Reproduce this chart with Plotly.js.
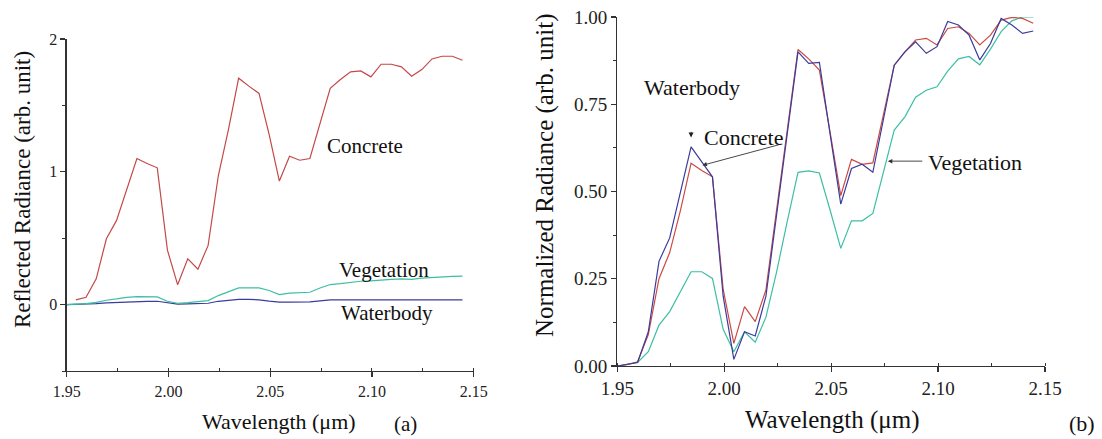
<!DOCTYPE html>
<html>
<head>
<meta charset="utf-8">
<script src="https://cdn.plot.ly/plotly-3.0.1.min.js"></script>
<style>html,body{margin:0;padding:0;background:#fff;}#chart{width:1102px;height:439px;}</style>
</head>
<body>
<div id="chart"></div>
<script>
// Wavelength samples (µm)
const wavelength = [1.9500,1.9545,1.9595,1.9645,1.9695,1.9745,1.9795,1.9845,1.9895,1.9945,
  1.9995,2.0045,2.0095,2.0145,2.0195,2.0245,2.0295,2.0345,2.0395,2.0445,
  2.0495,2.0545,2.0595,2.0645,2.0695,2.0745,2.0795,2.0845,2.0895,2.0945,
  2.0995,2.1045,2.1095,2.1145,2.1195,2.1245,2.1295,2.1345,2.1395,2.1445];

// (a) Reflected radiance (arb. unit)
const concreteA = [null,0.035,0.055,0.194,0.496,0.634,0.860,1.100,1.062,1.030,
  0.410,0.150,0.345,0.267,0.446,0.970,1.320,1.705,1.645,1.590,
  1.280,0.930,1.117,1.087,1.100,1.364,1.628,1.695,1.753,1.760,
  1.715,1.810,1.810,1.790,1.720,1.770,1.850,1.870,1.870,1.840];
const vegetationA = [0.000,0.003,0.008,0.017,0.033,0.043,0.055,0.060,0.060,0.058,
  0.025,0.010,0.015,0.020,0.030,0.068,0.095,0.126,0.126,0.126,
  0.106,0.075,0.086,0.088,0.093,0.125,0.151,0.158,0.168,0.176,
  0.178,0.186,0.190,0.194,0.190,0.200,0.205,0.211,0.213,0.214];
const waterbodyA = [0.000,0.001,0.003,0.008,0.013,0.017,0.022,0.025,0.025,0.025,
  0.012,0.003,0.005,0.005,0.010,0.025,0.033,0.040,0.040,0.036,
  0.026,0.018,0.018,0.018,0.020,0.028,0.035,0.035,0.035,0.035,
  0.035,0.035,0.035,0.035,0.035,0.035,0.035,0.035,0.035,0.035];

// (b) Normalized radiance (arb. unit)
const concreteB = [0.000,0.004,0.012,0.090,0.250,0.325,0.445,0.581,0.560,0.542,
  0.220,0.065,0.170,0.127,0.218,0.450,0.680,0.907,0.880,0.848,
  0.670,0.488,0.592,0.578,0.582,0.720,0.862,0.900,0.934,0.939,
  0.920,0.967,0.972,0.953,0.920,0.948,0.991,0.999,0.996,0.982];
const waterbodyB = [0.000,0.005,0.010,0.098,0.300,0.367,0.495,0.628,0.585,0.542,
  0.200,0.019,0.098,0.086,0.200,0.430,0.660,0.900,0.867,0.870,
  0.665,0.464,0.566,0.578,0.555,0.710,0.862,0.900,0.929,0.896,
  0.915,0.987,0.977,0.948,0.877,0.924,0.996,0.977,0.953,0.960];
const vegetationB = [0.000,0.004,0.010,0.041,0.117,0.156,0.213,0.270,0.270,0.251,
  0.105,0.041,0.098,0.068,0.140,0.270,0.415,0.555,0.559,0.553,
  0.447,0.337,0.416,0.416,0.437,0.557,0.676,0.714,0.770,0.790,
  0.800,0.845,0.880,0.887,0.863,0.908,0.958,0.989,1.000,1.000];

const cConcrete = '#cc4a44', cVeg = '#3dbfa3', cWater = '#3b3c9c';
const W = 1102, H = 439;
const px = x => x / W, py = y => 1 - y / H;
const FONT = 'Liberation Serif';

function line(x, y, color, xa, ya) {
  return {x: x, y: y, type: 'scatter', mode: 'lines', xaxis: xa, yaxis: ya,
    line: {color: color, width: 1.2}, connectgaps: false, hoverinfo: 'skip'};
}

const traces = [
  line(wavelength, concreteA, '#c44848', 'x', 'y'),
  line(wavelength, waterbodyA, cWater, 'x', 'y'),
  line(wavelength, vegetationA, cVeg, 'x', 'y'),
  line(wavelength, vegetationB, cVeg, 'x2', 'y2'),
  line(wavelength, concreteB, cConcrete, 'x2', 'y2'),
  line(wavelength, waterbodyB, cWater, 'x2', 'y2')
];

function xax(domain, fs) {
  return {domain: domain, range: [1.95, 2.15], tick0: 1.95, dtick: 0.05, tickformat: '.2f',
    ticks: 'outside', ticklen: 5, tickwidth: 1.2, tickcolor: '#333',
    showline: true, linecolor: '#333', linewidth: 1.3, showgrid: false, zeroline: false,
    tickfont: {family: FONT, size: fs, color: '#222'},
    minor: {dtick: 0.025, tick0: 1.95, ticks: 'inside', ticklen: 3, tickwidth: 1, tickcolor: '#333', showgrid: false}};
}
function yax(domain, range, dtick, mdtick, fmt, fs, anchor) {
  return {domain: domain, range: range, tick0: 0, dtick: dtick, tickformat: fmt, anchor: anchor,
    ticks: 'outside', ticklen: 5, tickwidth: 1.2, tickcolor: '#333',
    showline: true, linecolor: '#333', linewidth: 1.3, showgrid: false, zeroline: false,
    tickfont: {family: FONT, size: fs, color: '#222'},
    minor: {dtick: mdtick, tick0: 0, ticks: 'outside', ticklen: 3, tickwidth: 1, tickcolor: '#333', showgrid: false}};
}

function txt(text, x, y, size, extra) {
  return Object.assign({text: text, xref: 'paper', yref: 'paper', x: px(x), y: py(y),
    xanchor: 'center', yanchor: 'middle', showarrow: false,
    font: {family: FONT, size: size, color: '#111'}}, extra || {});
}

const annotations = [
  txt('Wavelength (μm)', 279, 421, 22),
  txt('Reflected Radiance (arb. unit)', 22, 190, 23, {textangle: -90}),
  txt('(a)', 405, 424, 21),
  txt('Concrete', 365, 146, 21),
  txt('Vegetation', 384, 270, 21),
  txt('Waterbody', 387, 313, 21),
  txt('Wavelength (μm)', 832, 420, 25),
  txt('Normalized Radiance (arb. unit)', 545, 176, 25, {textangle: -90}),
  txt('(b)', 1082, 423, 22),
  txt('Waterbody', 692, 87, 22),
  txt('Concrete', 743, 137, 22),
  txt('Vegetation', 975, 163, 22),
  // arrows
  {x: 1.9898, y: 0.575, xref: 'x2', yref: 'y2', ax: 78, ay: -21, axref: 'pixel', ayref: 'pixel',
   text: '', showarrow: true, arrowhead: 2, arrowsize: 1, arrowwidth: 0.9, arrowcolor: '#333'},
  {x: 2.0765, y: 0.587, xref: 'x2', yref: 'y2', ax: 36, ay: 0, axref: 'pixel', ayref: 'pixel',
   text: '', showarrow: true, arrowhead: 2, arrowsize: 1, arrowwidth: 0.9, arrowcolor: '#333'},
  {x: 1.9845, y: 0.655, xref: 'x2', yref: 'y2', ax: 0, ay: -7, axref: 'pixel', ayref: 'pixel',
   text: '', showarrow: true, arrowhead: 2, arrowsize: 1, arrowwidth: 1, arrowcolor: '#222'}
];

const layout = {
  width: W, height: H, margin: {l: 0, r: 0, t: 0, b: 0},
  paper_bgcolor: '#fff', plot_bgcolor: '#fff', showlegend: false,
  font: {family: FONT},
  xaxis: Object.assign(xax([66.7 / W, 473.7 / W], 16), {anchor: 'y'}),
  yaxis: yax([(H - 371) / H, (H - 39) / H], [-0.5, 2], 1, 0.5, 'd', 16, 'x'),
  xaxis2: Object.assign(xax([617.3 / W, 1045 / W], 19), {anchor: 'y2'}),
  yaxis2: yax([(H - 366) / H, (H - 17) / H], [0, 1], 0.25, 0.125, '.2f', 19, 'x2'),
  annotations: annotations
};

Plotly.newPlot('chart', traces, layout, {staticPlot: true, displayModeBar: false});
</script>
</body>
</html>
